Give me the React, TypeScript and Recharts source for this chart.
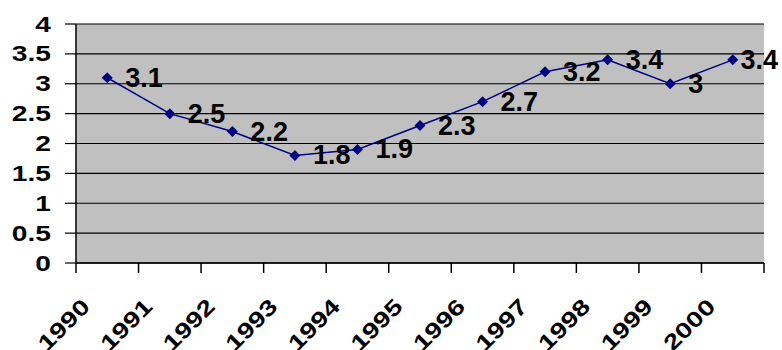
import React from "react";
import { LineChart, Line, XAxis, YAxis, CartesianGrid, LabelList } from "recharts";

const years = ["1990", "1991", "1992", "1993", "1994", "1995", "1996", "1997", "1998", "1999", "2000"];
const rates = [3.1, 2.5, 2.2, 1.8, 1.9, 2.3, 2.7, 3.2, 3.4, 3, 3.4];
const yTicks = [0, 0.5, 1, 1.5, 2, 2.5, 3, 3.5, 4];

const data = years.map((year, i) => ({ year, rate: rates[i] }));

const FONT = "'Liberation Sans', Arial, sans-serif";
const AXIS_SIZE = 22;
const LABEL_SIZE = 27;
const STRETCH = 1.28;
const STEP = 688 / years.length;
const CHART_W = 782;

const charWidth = (s: string) => s.split("").reduce((w, c) => w + (c === "." ? 0.278 : 0.556), 0);

// axis text in the original is drawn wider than plain Arial
const stretchedWidth = (s: string) => charWidth(s) * AXIS_SIZE * STRETCH;

const YTick = ({ x, y, payload }: any) => {
  const label = String(payload.value);
  return (
    <text
      x={x}
      y={y}
      textAnchor="end"
      dominantBaseline="central"
      fontFamily={FONT}
      fontWeight="bold"
      fontSize={AXIS_SIZE}
      fill="#000"
      textLength={stretchedWidth(label)}
      lengthAdjust="spacingAndGlyphs"
    >
      {label}
    </text>
  );
};

const XTick = ({ x, y, payload, index, visibleTicksCount }: any) => {
  const label = String(payload.value);
  const bx = x - 16;
  const by = y + 45;
  const last = index === visibleTicksCount - 1;
  return (
    <g>
      <line x1={x - STEP / 2} x2={x - STEP / 2} y1={y} y2={y + 10} stroke="#000" strokeWidth={1.5} />
      {last && <line x1={x + STEP / 2} x2={x + STEP / 2} y1={y} y2={y + 10} stroke="#000" strokeWidth={1.5} />}
      <text
        x={bx}
        y={by}
        textAnchor="end"
        transform={`rotate(-45, ${bx}, ${by})`}
        fontFamily={FONT}
        fontWeight="bold"
        fontSize={AXIS_SIZE}
        fill="#000"
        textLength={stretchedWidth(label)}
        lengthAdjust="spacingAndGlyphs"
      >
        {label}
      </text>
    </g>
  );
};

const Diamond = ({ cx, cy }: any) => {
  if (cx == null || cy == null) return null;
  const r = 5.5;
  return <polygon points={`${cx},${cy - r} ${cx + r},${cy} ${cx},${cy + r} ${cx - r},${cy}`} fill="#000080" />;
};

// Excel pulls the last label back inside the chart
const ValueLabel = ({ x, y, value }: any) => {
  const w = charWidth(String(value)) * LABEL_SIZE;
  const lx = Math.min(x + 18, CHART_W - 4 - w);
  return (
    <text x={lx} y={y} dominantBaseline="central" fontFamily={FONT} fontWeight="bold" fontSize={LABEL_SIZE} fill="#000">
      {value}
    </text>
  );
};

export default function App() {
  return (
    <div style={{ position: "absolute", left: 0, top: 0, background: "#fff" }}>
      <LineChart width={CHART_W} height={350} data={data} margin={{ top: 24, right: 18, left: 0, bottom: 0 }}>
        <CartesianGrid vertical={false} stroke="#000" strokeWidth={1.2} fill="#c0c0c0" fillOpacity={1} />
        <XAxis
          dataKey="year"
          height={87}
          padding={{ left: STEP / 2, right: STEP / 2 }}
          axisLine={{ stroke: "#000", strokeWidth: 1.5 }}
          tickLine={false}
          tickSize={0}
          tickMargin={0}
          interval={0}
          tick={<XTick />}
        />
        <XAxis xAxisId="top" dataKey="year" orientation="top" height={0} axisLine={{ stroke: "#808080", strokeWidth: 1.5 }} tick={false} tickLine={false} />
        <YAxis
          domain={[0, 4]}
          ticks={yTicks}
          width={76}
          axisLine={{ stroke: "#000", strokeWidth: 1.5 }}
          tickLine={{ stroke: "#000", strokeWidth: 1.2 }}
          tickSize={11}
          tickMargin={14}
          tick={<YTick />}
        />
        <YAxis yAxisId="right" orientation="right" width={0} axisLine={{ stroke: "#808080", strokeWidth: 1.5 }} tick={false} tickLine={false} />
        <Line
          dataKey="rate"
          stroke="#000080"
          strokeWidth={1.5}
          dot={<Diamond />}
          activeDot={false}
          isAnimationActive={false}
        >
          <LabelList dataKey="rate" content={<ValueLabel />} />
        </Line>
      </LineChart>
    </div>
  );
}
